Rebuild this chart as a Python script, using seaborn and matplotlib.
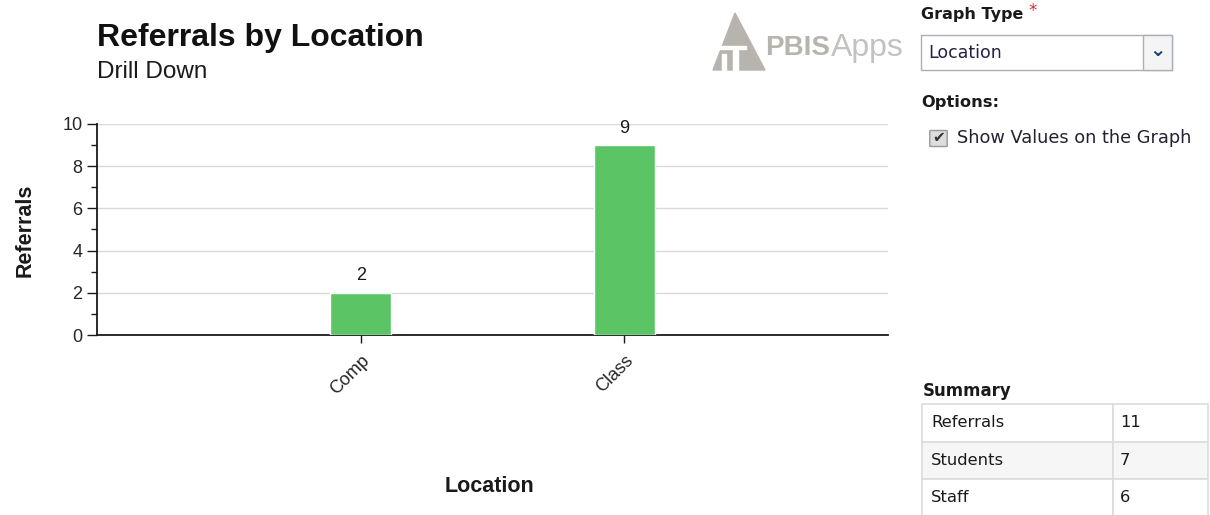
import matplotlib.pyplot as plt
import matplotlib.patches as mpatches
import numpy as np
import pandas as pd
import seaborn as sns

# ---- data -----------------------------------------------------------------
locations = ["Comp", "Class"]
referrals = [2, 9]
summary_labels = ["Referrals", "Students", "Staff"]
summary_values = [11, 7, 6]

BAR = "#5bc566"
CHART_FONT = ["Liberation Sans", "DejaVu Sans"]
UI_FONT = ["DejaVu Sans"]

sns.set_theme(style="white")
plt.rcParams["font.family"] = CHART_FONT

W, H = 1210, 515
fig = plt.figure(figsize=(W / 100, H / 100), dpi=100)


def px(x, y):
    return x / W, 1 - y / H


def add_patch(p):
    p.set_transform(fig.transFigure)
    p.set_figure(fig)
    fig.patches.append(p)


# ---- main bar chart -------------------------------------------------------
ax = fig.add_axes([97 / W, 1 - 335 / H, (888 - 97) / W, (335 - 124) / H])
df = pd.DataFrame({"Location": locations, "Referrals": referrals})
sns.barplot(data=df, x="Location", y="Referrals", color=BAR, width=0.23,
            saturation=1, ax=ax, zorder=3)
ax.set_xlim(-1, 2)
ax.set_ylim(0, 10)
ax.set_yticks(np.arange(0, 11, 2))
ax.set_yticks(np.arange(1, 10, 2), minor=True)
ax.yaxis.grid(True, color="#d9d9d9", lw=1, zorder=0)
for s in ["top", "right"]:
    ax.spines[s].set_visible(False)
for s in ["left", "bottom"]:
    ax.spines[s].set_color("#1a1a1a")
    ax.spines[s].set_linewidth(1.3)
ax.tick_params(axis="y", which="major", direction="out", length=7.5, width=1,
               color="#1a1a1a", labelsize=13, pad=3, left=True)
ax.tick_params(axis="y", which="minor", direction="out", length=4.5, width=1,
               color="#1a1a1a", left=True)
ax.tick_params(axis="x", direction="out", length=6, width=1, color="#1a1a1a",
               labelsize=13, bottom=True, pad=6)
for lbl in ax.get_xticklabels():
    lbl.set_rotation(45)
    lbl.set_ha("right")
    lbl.set_rotation_mode("anchor")
ax.set_xlabel("")
ax.set_ylabel("")
for c in ax.containers:
    ax.bar_label(c, labels=[str(v) for v in referrals], padding=6, fontsize=13,
                 color="#1a1a1a")

fig.text(*px(25, 230), "Referrals", rotation=90, ha="center", va="center",
         fontsize=15.5, fontweight="bold", color="#1a1a1a")
fig.text(*px(490, 487), "Location", ha="center", va="center", fontsize=15.5,
         fontweight="bold", color="#1a1a1a")

# ---- titles ---------------------------------------------------------------
fig.text(*px(97, 38), "Referrals by Location", ha="left", va="center",
         fontsize=23, fontweight="bold", color="#111111")
fig.text(*px(97, 72), "Drill Down", ha="left", va="center", fontsize=17.5,
         color="#1a1a1a")

# ---- logo -----------------------------------------------------------------
logo = "#b7b4ae"
add_patch(mpatches.Polygon([px(713, 70), px(735, 13), px(765, 70)],
                           closed=True, color=logo))
add_patch(mpatches.Rectangle(px(713, 49), 33 / W, 3 / H, color="white"))
add_patch(mpatches.Rectangle(px(722, 70), 4 / W, 16 / H, color="white"))
add_patch(mpatches.Rectangle(px(733, 70), 5 / W, 20 / H, color="white"))
fig.text(*px(765, 48), "PBIS", ha="left", va="center", fontsize=20,
         fontweight="bold", color=logo)
fig.text(*px(831, 48), "Apps", ha="left", va="center", fontsize=23,
         color="#c4c2be")

# ---- right panel ----------------------------------------------------------
fig.text(*px(921, 15), "Graph Type", ha="left", va="center", fontsize=11.5,
         fontweight="bold", color="#1a1a1a", family=UI_FONT)
fig.text(*px(1028, 11), "*", ha="left", va="center", fontsize=12,
         color="#cc3333", family=UI_FONT)
add_patch(mpatches.Rectangle(px(921, 70), (1172 - 921) / W, 35 / H,
                             facecolor="white", edgecolor="#aab0b8", lw=1))
add_patch(mpatches.Rectangle(px(1143, 70), (1172 - 1143) / W, 35 / H,
                             facecolor="#f4f4f4", edgecolor="#aab0b8", lw=1))
fig.text(*px(1157, 51), "\u2304", ha="center", va="center", fontsize=14,
         fontweight="bold", color="#1f3f7a", family=UI_FONT)
fig.text(*px(928, 53), "Location", ha="left", va="center", fontsize=12.5,
         color="#222244", family=UI_FONT)

fig.text(*px(921, 103), "Options:", ha="left", va="center", fontsize=11.7,
         fontweight="bold", color="#1a1a1a", family=UI_FONT)
add_patch(mpatches.FancyBboxPatch(px(931, 146), 15 / W, 15 / H,
                                  boxstyle="round,pad=0.001",
                                  facecolor="#dddddd", edgecolor="#999999",
                                  lw=1))
fig.text(*px(939, 137), "\u2714", ha="center", va="center", fontsize=11,
         color="#333333", family=UI_FONT)
fig.text(*px(957, 138), "Show Values on the Graph", ha="left", va="center",
         fontsize=12.8, color="#222233", family=UI_FONT)

fig.text(*px(923, 391), "Summary", ha="left", va="center", fontsize=12,
         fontweight="bold", color="#1a1a1a", family=UI_FONT)
row_top = 404
row_h = 37.5
for i, (lab, val) in enumerate(zip(summary_labels, summary_values)):
    y0 = row_top + i * row_h
    bg = "white" if i % 2 == 0 else "#f6f6f6"
    for x0, x1 in [(922, 1113), (1113, 1208)]:
        add_patch(mpatches.Rectangle(px(x0, y0 + row_h), (x1 - x0) / W,
                                     row_h / H, facecolor=bg,
                                     edgecolor="#dcdcdc", lw=1.2))
    fig.text(*px(931, y0 + row_h / 2), lab, ha="left", va="center",
             fontsize=11.8, color="#1a1a1a", family=UI_FONT)
    fig.text(*px(1120, y0 + row_h / 2), str(val), ha="left", va="center",
             fontsize=11.8, color="#1a1a1a", family=UI_FONT)

fig.savefig("out.png", dpi=100)
